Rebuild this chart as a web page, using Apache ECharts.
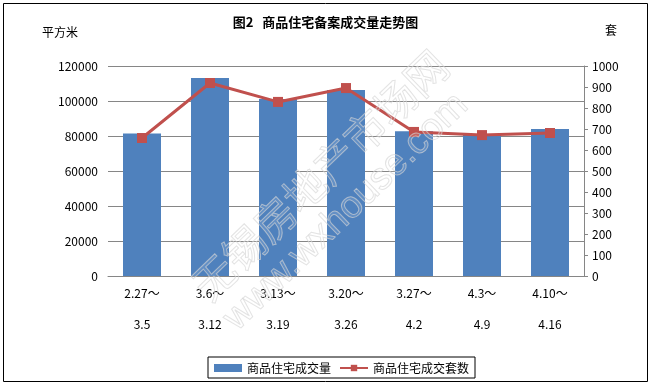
<!DOCTYPE html>
<html>
<head>
<meta charset="utf-8">
<script src="https://cdn.jsdelivr.net/npm/echarts@6/dist/echarts.min.js"></script>
<style>html,body{margin:0;padding:0;background:#fff;}#c{width:651px;height:385px;}</style>
</head>
<body>
<div id="c"></div>
<script>
var categories = ['2.27～\n3.5', '3.6～\n3.12', '3.13～\n3.19', '3.20～\n3.26', '3.27～\n4.2', '4.3～\n4.9', '4.10～\n4.16'];
var areaValues = [81500, 113200, 101200, 106300, 82700, 80600, 84000];
var unitValues = [657, 919, 829, 895, 686, 671, 681];
var leftTicks = { min: 0, max: 120000, interval: 20000 };
var rightTicks = { min: 0, max: 1000, interval: 100 };

var chart = echarts.init(document.getElementById('c'), null, { renderer: 'canvas' });
var font = '"Noto Sans CJK SC", "Liberation Sans", sans-serif';
var option = {
  backgroundColor: '#fff',
  animation: false,
  textStyle: { fontFamily: font },
  title: {
    text: '图2   商品住宅备案成交量走势图',
    left: 'center',
    top: 11,
    textStyle: { fontSize: 13, fontWeight: 'bold', color: '#000', fontFamily: font }
  },
  grid: { left: 108, right: 67, top: 66, bottom: 109, containLabel: false },
  legend: {
    left: 208,
    top: 357,
    padding: [5, 6, 4, 6],
    borderColor: '#000',
    borderWidth: 1,
    itemWidth: 28,
    itemHeight: 8,
    itemGap: 8,
    textStyle: { fontSize: 12, color: '#000', fontFamily: font },
    data: [
      { name: '商品住宅成交量', icon: 'rect' },
      { name: '商品住宅成交套数' }
    ]
  },
  xAxis: {
    type: 'category',
    data: categories,
    axisLine: { lineStyle: { color: '#868686', width: 1 } },
    axisTick: { show: false },
    axisLabel: { color: '#000', fontSize: 12, lineHeight: 31, margin: 2, interval: 0, fontFamily: font }
  },
  yAxis: [
    {
      type: 'value',
      min: leftTicks.min, max: leftTicks.max, interval: leftTicks.interval,
      axisLine: { show: false },
      axisTick: { show: false },
      axisLabel: { color: '#000', fontSize: 12, margin: 10, fontFamily: font, formatter: function (v) { return String(v); } },
      splitLine: { lineStyle: { color: '#868686', width: 1 } }
    },
    {
      type: 'value',
      min: rightTicks.min, max: rightTicks.max, interval: rightTicks.interval,
      position: 'right',
      axisLine: { show: true, lineStyle: { color: '#868686', width: 1 } },
      axisTick: { show: true, inside: false, length: 4, lineStyle: { color: '#868686' } },
      axisLabel: { color: '#000', fontSize: 12, margin: 8, fontFamily: font, formatter: function (v) { return String(v); } },
      splitLine: { show: false }
    }
  ],
  series: [
    {
      name: '商品住宅成交量',
      type: 'bar',
      yAxisIndex: 0,
      data: areaValues,
      barWidth: 38,
      itemStyle: { color: '#4F81BD' }
    },
    {
      name: '商品住宅成交套数',
      type: 'line',
      yAxisIndex: 1,
      data: unitValues,
      symbol: 'rect',
      symbolSize: 10,
      lineStyle: { color: '#C0504D', width: 3 },
      itemStyle: { color: '#C0504D' }
    }
  ],
  graphic: [
    {
      type: 'rect', z: 100, silent: true,
      shape: { x: 3.5, y: 3.5, width: 644, height: 378 },
      style: { fill: 'none', stroke: '#000', lineWidth: 1 }
    },
    {
      type: 'text', z: 60, silent: true, left: 42, top: 26,
      style: { text: '平方米', font: '12px "Noto Sans CJK SC"', fill: '#000' }
    },
    {
      type: 'text', z: 60, silent: true, left: 605, top: 24,
      style: { text: '套', font: '12px "Noto Sans CJK SC"', fill: '#000' }
    },
    {
      type: 'text', z: 50, silent: true,
      x: 320, y: 175, rotation: Math.PI * 44 / 180,
      style: {
        text: '无锡房地产市场网', x: 0, y: 0, align: 'center', verticalAlign: 'middle',
        font: '42px "Noto Sans CJK SC"', fill: 'rgba(255,255,255,0.12)',
        stroke: 'rgba(210,210,210,0.65)', lineWidth: 1
      }
    },
    {
      type: 'text', z: 50, silent: true,
      x: 346, y: 212, rotation: Math.PI * 44 / 180,
      style: {
        text: 'www.wxhouse.com', x: 0, y: 0, align: 'center', verticalAlign: 'middle',
        font: '38px "Liberation Sans"', fill: 'rgba(255,255,255,0.12)',
        stroke: 'rgba(210,210,210,0.65)', lineWidth: 1
      }
    }
  ]
};
chart.setOption(option);
</script>
</body>
</html>
